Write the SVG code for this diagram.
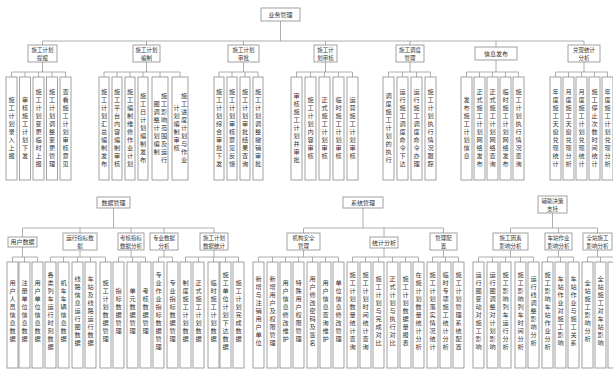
<svg xmlns="http://www.w3.org/2000/svg" width="613" height="372" viewBox="0 0 613 372">
<style>
.b{fill:#fff;stroke:#8a8a8a;stroke-width:0.8}
.t{font-family:"Noto Sans CJK SC","Noto Sans CJK JP",sans-serif;font-size:6px;fill:#333}
.h{text-anchor:middle}
.d{font-size:5.5px}
.v{writing-mode:vertical-rl;text-anchor:middle;dominant-baseline:central;letter-spacing:1.8px;font-size:6.2px}
.c{stroke:#9a9a9a;stroke-width:0.8;fill:none}
</style>
<rect width="613" height="372" fill="#fff"/>
<g id="connectors">
<path class="c" d="M280.5 21V41M42.5 41H584M42.5 41V45M146.5 41V45M243.5 41V45M325.5 41V45M410 41V45M496 41V47M584 41V45"/>
<path class="c" d="M42.5 62V72M11.5 72H65.5M11.5 72V77M25 72V77M38.5 72V77M52 72V77M65.5 72V77"/>
<path class="c" d="M146.5 62V72M104 72H180M104 72V77M117 72V77M130 72V77M143 72V77M160 72V77M180 72V77"/>
<path class="c" d="M243.5 62V72M219 72H258M219 72V77M232 72V77M245 72V77M258 72V77"/>
<path class="c" d="M325.5 62V72M296.5 72H352.5M296.5 72V77M310.5 72V77M324.5 72V77M338.5 72V77M352.5 72V77"/>
<path class="c" d="M410 62V72M388.5 72H430.5M388.5 72V77M402.5 72V77M416.5 72V77M430.5 72V77"/>
<path class="c" d="M496 60V72M466.5 72H518.5M466.5 72V77M479.5 72V77M492.5 72V77M505.5 72V77M518.5 72V77"/>
<path class="c" d="M584 62V72M555.5 72H607.5M555.5 72V77M568.5 72V77M581.5 72V77M594.5 72V77M607.5 72V77"/>
<path class="c" d="M113.5 208V228M22.5 228H214M22.5 228V237M80 228V233M131 228V233M164 228V233M214 228V233"/>
<path class="c" d="M363 208V228M303.5 228H443.5M303.5 228V233M384 228V237M443.5 228V233"/>
<path class="c" d="M552.5 213V228M510.5 228H597.5M510.5 228V233M558.5 228V233M597.5 228V233"/>
<path class="c" d="M22.5 247V257M12.5 257H37.5M12.5 257V262M24.5 257V262M37.5 257V262"/>
<path class="c" d="M80 250V257M50.5 257H105.5M50.5 257V262M63.5 257V262M77.5 257V262M90.5 257V262M105.5 257V262"/>
<path class="c" d="M131 250V257M118.5 257H145.5M118.5 257V262M132.5 257V262M145.5 257V262"/>
<path class="c" d="M164 250V257M158.5 257H172.5M158.5 257V262M172.5 257V262"/>
<path class="c" d="M214 250V257M185.5 257H238.5M185.5 257V262M198.5 257V262M213.5 257V262M225.5 257V262M238.5 257V262"/>
<path class="c" d="M303.5 250V257M258.5 257H338.5M258.5 257V262M272.5 257V262M285.5 257V262M298.5 257V262M312.5 257V262M325.5 257V262M338.5 257V262"/>
<path class="c" d="M384 248V257M352.5 257H418.5M352.5 257V262M365.5 257V262M378.5 257V262M392.5 257V262M405.5 257V262M418.5 257V262"/>
<path class="c" d="M443.5 250V257M432.5 257H458.5M432.5 257V262M445.5 257V262M458.5 257V262"/>
<path class="c" d="M510.5 250V257M478.5 257H533.5M478.5 257V262M492.5 257V262M505.5 257V262M520.5 257V262M533.5 257V262"/>
<path class="c" d="M558.5 250V257M547.5 257H573.5M547.5 257V262M560.5 257V262M573.5 257V262"/>
<path class="c" d="M597.5 250V257M587.5 257H613M587.5 257V262M600.5 257V262"/>
</g>
<g id="root"><rect class="b" x="261" y="8" width="39" height="13"/><text class="t h" x="280.5" y="16.6">业务管理</text></g>
<g id="g1"><rect class="b" x="28" y="45" width="29" height="17"/><text class="t h d" x="42.5" y="51.8">施工计划<tspan x="42.5" dy="8">提报</tspan></text></g>
<g id="g2"><rect class="b" x="133" y="45" width="27" height="17"/><text class="t h d" x="146.5" y="51.8">施工计划<tspan x="146.5" dy="8">编制</tspan></text></g>
<g id="g3"><rect class="b" x="228" y="45" width="31" height="17"/><text class="t h d" x="243.5" y="51.8">施工计划<tspan x="243.5" dy="8">审批</tspan></text></g>
<g id="g4"><rect class="b" x="314" y="45" width="23" height="17"/><text class="t h d" x="325.5" y="51.8">施工计<tspan x="325.5" dy="8">划审核</tspan></text></g>
<g id="g5"><rect class="b" x="396" y="45" width="28" height="17"/><text class="t h d" x="410" y="51.8">施工调度<tspan x="410" dy="8">管理</tspan></text></g>
<g id="g6"><rect class="b" x="475" y="47" width="42" height="13"/><text class="t h" x="496" y="55.6">信息发布</text></g>
<g id="g7"><rect class="b" x="568" y="45" width="32" height="17"/><text class="t h d" x="584" y="51.8">兑现统计<tspan x="584" dy="8">分析</tspan></text></g>
<g id="l1-1"><rect class="b" x="6" y="77" width="11" height="103"/><text class="t v" x="11.5" y="128.5">施工计划录入上报</text></g>
<g id="l1-2"><rect class="b" x="19.5" y="77" width="11" height="103"/><text class="t v" x="25" y="128.5">审核施工计划下发</text></g>
<g id="l1-3"><rect class="b" x="33" y="77" width="11" height="103"/><text class="t v" x="38.5" y="128.5">施工计划变更临时上报</text></g>
<g id="l1-4"><rect class="b" x="46.5" y="77" width="11" height="103"/><text class="t v" x="52" y="128.5">施工计划调整变更管理</text></g>
<g id="l1-5"><rect class="b" x="60" y="77" width="11" height="103"/><text class="t v" x="65.5" y="128.5">查看施工计划审核意见</text></g>
<g id="l2-1"><rect class="b" x="99" y="77" width="10" height="103"/><text class="t v" x="104" y="128.5">施工计划汇总编制发布</text></g>
<g id="l2-2"><rect class="b" x="112" y="77" width="10" height="103"/><text class="t v" x="117" y="128.5">施工平台内容编制审核</text></g>
<g id="l2-3"><rect class="b" x="125" y="77" width="10" height="103"/><text class="t v" x="130" y="128.5">施工编制维修作业计划</text></g>
<g id="l2-4"><rect class="b" x="138" y="77" width="10" height="103"/><text class="t v" x="143" y="128.5">施工日计划编制发布</text></g>
<g id="l2-5"><rect class="b" x="152" y="77" width="16" height="103"/><text class="t v" x="164" y="128.5">施工影响范围及运行</text><text class="t v" x="156.5" y="128.5">图调整计划编制</text></g>
<g id="l2-6"><rect class="b" x="172" y="77" width="16" height="103"/><text class="t v" x="184" y="128.5">施工进度计划与作业</text><text class="t v" x="176.5" y="128.5">计划编制审核</text></g>
<g id="l3-1"><rect class="b" x="214" y="77" width="10" height="103"/><text class="t v" x="219" y="128.5">施工计划综合审批下发</text></g>
<g id="l3-2"><rect class="b" x="227" y="77" width="10" height="103"/><text class="t v" x="232" y="128.5">施工计划审核意见反馈</text></g>
<g id="l3-3"><rect class="b" x="240" y="77" width="10" height="103"/><text class="t v" x="245" y="128.5">施工计划审批结果查询</text></g>
<g id="l3-4"><rect class="b" x="253" y="77" width="10" height="103"/><text class="t v" x="258" y="128.5">施工计划调整撤销审批</text></g>
<g id="l4-1"><rect class="b" x="291" y="77" width="11" height="103"/><text class="t v" x="296.5" y="128.5">审核施工计划并审批</text></g>
<g id="l4-2"><rect class="b" x="305" y="77" width="11" height="103"/><text class="t v" x="310.5" y="128.5">施工计划内容审核</text></g>
<g id="l4-3"><rect class="b" x="319" y="77" width="11" height="103"/><text class="t v" x="324.5" y="128.5">正式施工计划审核</text></g>
<g id="l4-4"><rect class="b" x="333" y="77" width="11" height="103"/><text class="t v" x="338.5" y="128.5">临时施工计划审核</text></g>
<g id="l4-5"><rect class="b" x="347" y="77" width="11" height="103"/><text class="t v" x="352.5" y="128.5">运营施工计划审核</text></g>
<g id="l5-1"><rect class="b" x="383" y="77" width="11" height="103"/><text class="t v" x="388.5" y="128.5">调度施工计划的执行</text></g>
<g id="l5-2"><rect class="b" x="397" y="77" width="11" height="103"/><text class="t v" x="402.5" y="128.5">运行施工调度命令下达</text></g>
<g id="l5-3"><rect class="b" x="411" y="77" width="11" height="103"/><text class="t v" x="416.5" y="128.5">运行施工调度命令办理</text></g>
<g id="l5-4"><rect class="b" x="425" y="77" width="11" height="103"/><text class="t v" x="430.5" y="128.5">施工计划执行情况跟踪</text></g>
<g id="l6-1"><rect class="b" x="461" y="77" width="11" height="103"/><text class="t v" x="466.5" y="128.5">发布施工计划信息</text></g>
<g id="l6-2"><rect class="b" x="474" y="77" width="11" height="103"/><text class="t v" x="479.5" y="128.5">正式施工计划网络发布</text></g>
<g id="l6-3"><rect class="b" x="487" y="77" width="11" height="103"/><text class="t v" x="492.5" y="128.5">正式施工计划网络查询</text></g>
<g id="l6-4"><rect class="b" x="500" y="77" width="11" height="103"/><text class="t v" x="505.5" y="128.5">临时施工计划网络发布</text></g>
<g id="l6-5"><rect class="b" x="513" y="77" width="11" height="103"/><text class="t v" x="518.5" y="128.5">施工计划执行情况查询</text></g>
<g id="l7-1"><rect class="b" x="550" y="77" width="11" height="103"/><text class="t v" x="555.5" y="128.5">年度施工天窗兑现统计</text></g>
<g id="l7-2"><rect class="b" x="563" y="77" width="11" height="103"/><text class="t v" x="568.5" y="128.5">月度施工天窗兑现分析</text></g>
<g id="l7-3"><rect class="b" x="576" y="77" width="11" height="103"/><text class="t v" x="581.5" y="128.5">月度施工计划兑现统计</text></g>
<g id="l7-4"><rect class="b" x="589" y="77" width="11" height="103"/><text class="t v" x="594.5" y="128.5">施工停止次数时间统计</text></g>
<g id="l7-5"><rect class="b" x="602" y="77" width="11" height="103"/><text class="t v" x="607.5" y="128.5">年度施工计划兑现分析</text></g>
<g id="b1"><rect class="b" x="97" y="197" width="33" height="11"/><text class="t h" x="113.5" y="204.6">数据管理</text></g>
<g id="b2"><rect class="b" x="343" y="197" width="40" height="11"/><text class="t h" x="363" y="204.6">系统管理</text></g>
<g id="b3"><rect class="b" x="538" y="196" width="29" height="17"/><text class="t h d" x="552.5" y="202.8">辅助决策<tspan x="552.5" dy="8">支持</tspan></text></g>
<g id="m1"><rect class="b" x="8" y="237" width="29" height="10"/><text class="t h" x="22.5" y="244.1">用户数据</text></g>
<g id="m2"><rect class="b" x="63" y="233" width="34" height="17"/><text class="t h d" x="80" y="239.8">运行指标数<tspan x="80" dy="8">据</tspan></text></g>
<g id="m3"><rect class="b" x="118" y="233" width="26" height="17"/><text class="t h d" x="131" y="239.8">考核指标<tspan x="131" dy="8">数据分析</tspan></text></g>
<g id="m4"><rect class="b" x="150" y="233" width="28" height="17"/><text class="t h d" x="164" y="239.8">专业数据<tspan x="164" dy="8">分析</tspan></text></g>
<g id="m5"><rect class="b" x="200" y="233" width="28" height="17"/><text class="t h d" x="214" y="239.8">施工计划<tspan x="214" dy="8">数据统计</tspan></text></g>
<g id="m6"><rect class="b" x="287" y="233" width="33" height="17"/><text class="t h d" x="303.5" y="239.8">机构安全<tspan x="303.5" dy="8">管理</tspan></text></g>
<g id="m7"><rect class="b" x="370" y="237" width="28" height="11"/><text class="t h" x="384" y="244.6">统计分析</text></g>
<g id="m8"><rect class="b" x="430" y="233" width="27" height="17"/><text class="t h d" x="443.5" y="239.8">管理配<tspan x="443.5" dy="8">置</tspan></text></g>
<g id="m9"><rect class="b" x="493" y="233" width="35" height="17"/><text class="t h d" x="510.5" y="239.8">施工因素<tspan x="510.5" dy="8">影响分析</tspan></text></g>
<g id="m10"><rect class="b" x="545" y="233" width="27" height="17"/><text class="t h d" x="558.5" y="239.8">车站作业<tspan x="558.5" dy="8">影响分析</tspan></text></g>
<g id="m11"><rect class="b" x="583" y="233" width="29" height="17"/><text class="t h d" x="597.5" y="239.8">全站施工<tspan x="597.5" dy="8">影响分析</tspan></text></g>
<g id="n1"><rect class="b" x="7" y="262" width="11" height="106"/><text class="t v" x="12.5" y="312">用户人员信息数据</text></g>
<g id="n2"><rect class="b" x="19" y="262" width="11" height="106"/><text class="t v" x="24.5" y="312">注册单位信息数据</text></g>
<g id="n3"><rect class="b" x="32" y="262" width="11" height="106"/><text class="t v" x="37.5" y="312">用户单位信息数据</text></g>
<g id="n4"><rect class="b" x="45" y="262" width="11" height="106"/><text class="t v" x="50.5" y="312">各类列车运行时刻数据</text></g>
<g id="n5"><rect class="b" x="58" y="262" width="11" height="106"/><text class="t v" x="63.5" y="312">机车车辆信息数据</text></g>
<g id="n6"><rect class="b" x="72" y="262" width="11" height="106"/><text class="t v" x="77.5" y="312">线路信息运行图数据</text></g>
<g id="n7"><rect class="b" x="85" y="262" width="11" height="106"/><text class="t v" x="90.5" y="312">车站及线路运行数据</text></g>
<g id="n8"><rect class="b" x="100" y="262" width="11" height="106"/><text class="t v" x="105.5" y="312">施工计划数据管理</text></g>
<g id="n9"><rect class="b" x="113" y="262" width="11" height="106"/><text class="t v" x="118.5" y="312">指标数据管理</text></g>
<g id="n10"><rect class="b" x="127" y="262" width="11" height="106"/><text class="t v" x="132.5" y="312">单元数据管理</text></g>
<g id="n11"><rect class="b" x="140" y="262" width="11" height="106"/><text class="t v" x="145.5" y="312">考核数据管理</text></g>
<g id="n12"><rect class="b" x="153" y="262" width="11" height="106"/><text class="t v" x="158.5" y="312">专业作业指标数据管理</text></g>
<g id="n13"><rect class="b" x="167" y="262" width="11" height="106"/><text class="t v" x="172.5" y="312">专业指标数据管理</text></g>
<g id="n14"><rect class="b" x="180" y="262" width="11" height="106"/><text class="t v" x="185.5" y="312">制度施工计划数据</text></g>
<g id="n15"><rect class="b" x="193" y="262" width="11" height="106"/><text class="t v" x="198.5" y="312">正式施工计划数据</text></g>
<g id="n16"><rect class="b" x="208" y="262" width="11" height="106"/><text class="t v" x="213.5" y="312">临时施工计划数据</text></g>
<g id="n17"><rect class="b" x="220" y="262" width="11" height="106"/><text class="t v" x="225.5" y="312">施工单位计划下达数据</text></g>
<g id="n18"><rect class="b" x="233" y="262" width="11" height="106"/><text class="t v" x="238.5" y="312">施工计划完成数据</text></g>
<g id="n19"><rect class="b" x="253" y="262" width="11" height="106"/><text class="t v" x="258.5" y="312">新增与注销用户单位</text></g>
<g id="n20"><rect class="b" x="267" y="262" width="11" height="106"/><text class="t v" x="272.5" y="312">新增用户及权限管理</text></g>
<g id="n21"><rect class="b" x="280" y="262" width="11" height="106"/><text class="t v" x="285.5" y="312">用户信息修改维护</text></g>
<g id="n22"><rect class="b" x="293" y="262" width="11" height="106"/><text class="t v" x="298.5" y="312">特殊用户权限管理</text></g>
<g id="n23"><rect class="b" x="307" y="262" width="11" height="106"/><text class="t v" x="312.5" y="312">用户修改密码及签名</text></g>
<g id="n24"><rect class="b" x="320" y="262" width="11" height="106"/><text class="t v" x="325.5" y="312">用户信息查询维护</text></g>
<g id="n25"><rect class="b" x="333" y="262" width="11" height="106"/><text class="t v" x="338.5" y="312">单位信息修改管理</text></g>
<g id="n26"><rect class="b" x="347" y="262" width="11" height="106"/><text class="t v" x="352.5" y="312">施工计划数量统计查询</text></g>
<g id="n27"><rect class="b" x="360" y="262" width="11" height="106"/><text class="t v" x="365.5" y="312">施工计划时间统计查询</text></g>
<g id="n28"><rect class="b" x="373" y="262" width="11" height="106"/><text class="t v" x="378.5" y="312">施工计划与完成对比</text></g>
<g id="n29"><rect class="b" x="387" y="262" width="11" height="106"/><text class="t v" x="392.5" y="312">正式计划与执行对比</text></g>
<g id="n30"><rect class="b" x="400" y="262" width="11" height="106"/><text class="t v" x="405.5" y="312">施工计划数据量报表</text></g>
<g id="n31"><rect class="b" x="413" y="262" width="11" height="106"/><text class="t v" x="418.5" y="312">在施计划数量统计分析</text></g>
<g id="n32"><rect class="b" x="427" y="262" width="11" height="106"/><text class="t v" x="432.5" y="312">施工计划落实情况统计</text></g>
<g id="n33"><rect class="b" x="440" y="262" width="11" height="106"/><text class="t v" x="445.5" y="312">临时专项施工统计分析</text></g>
<g id="n34"><rect class="b" x="453" y="262" width="11" height="106"/><text class="t v" x="458.5" y="312">施工计划管理系统配置</text></g>
<g id="n35"><rect class="b" x="473" y="262" width="11" height="106"/><text class="t v" x="478.5" y="312">运行图变动对施工影响</text></g>
<g id="n36"><rect class="b" x="487" y="262" width="11" height="106"/><text class="t v" x="492.5" y="312">运行图调整对计划影响</text></g>
<g id="n37"><rect class="b" x="500" y="262" width="11" height="106"/><text class="t v" x="505.5" y="312">施工影响列车运行分析</text></g>
<g id="n38"><rect class="b" x="515" y="262" width="11" height="106"/><text class="t v" x="520.5" y="312">施工影响列车时间分析</text></g>
<g id="n39"><rect class="b" x="528" y="262" width="11" height="106"/><text class="t v" x="533.5" y="312">运行线调整影响分析</text></g>
<g id="n40"><rect class="b" x="542" y="262" width="11" height="106"/><text class="t v" x="547.5" y="312">施工影响车站作业分析</text></g>
<g id="n41"><rect class="b" x="555" y="262" width="11" height="106"/><text class="t v" x="560.5" y="312">车站作业对施工影响</text></g>
<g id="n42"><rect class="b" x="568" y="262" width="11" height="106"/><text class="t v" x="573.5" y="312">车站作业与施工关系</text></g>
<g id="n43"><rect class="b" x="582" y="262" width="11" height="106"/><text class="t v" x="587.5" y="312">全站施工影响分析</text></g>
<g id="n44"><rect class="b" x="595" y="262" width="11" height="106"/><text class="t v" x="600.5" y="312">全站施工对车站影响</text></g>
<g id="n45"><rect class="b" x="608" y="262" width="11" height="106"/></g>
</svg>
